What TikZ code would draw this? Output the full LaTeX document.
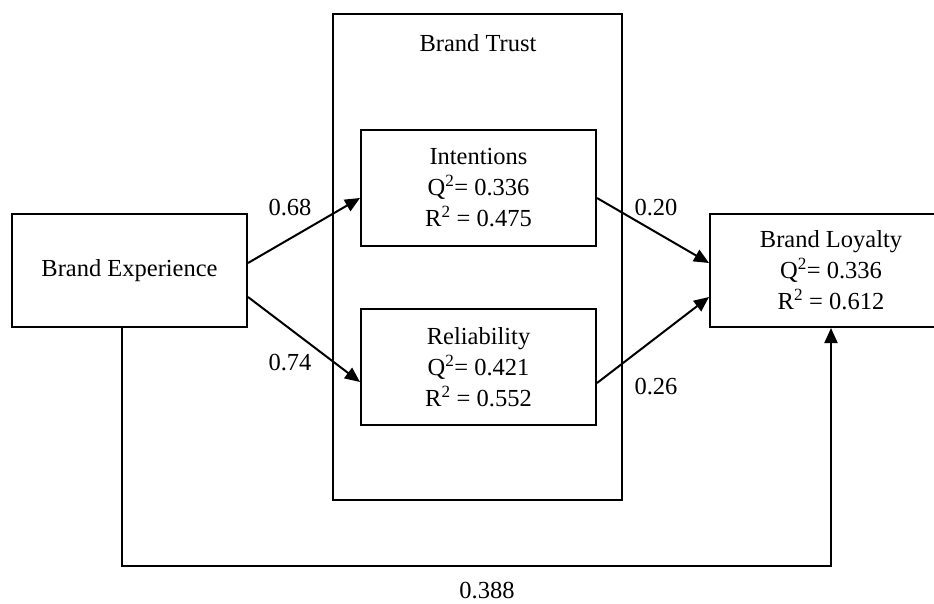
\documentclass[tikz,border=0pt]{standalone}
\usepackage{fontspec}
\setmainfont{Liberation Serif}
\usetikzlibrary{arrows.meta}
\begin{document}
\begin{tikzpicture}[x=1pt,y=-1pt,
  box/.style={draw,line width=2pt,rectangle,inner sep=0pt,align=center,
    font=\fontsize{24.5}{31}\selectfont},
  lbl/.style={font=\fontsize{24.5}{31}\selectfont,inner sep=0pt},
  conn/.style={line width=2pt,-{Triangle[length=15pt,width=13pt]}}]
\useasboundingbox (0,0) rectangle (934,603);
\node[box,minimum width=289pt,minimum height=486pt] (trust) at (477.5,257) {};
\node[lbl] (trusttitle) at (478,43) {Brand Trust};
\node[box,minimum width=235pt,minimum height=113pt] (exp) at (129.5,270.5) {Brand Experience};
\node[box,minimum width=235pt,minimum height=116pt,fill=white] (int) at (478.5,188)
  {Intentions\\Q\textsuperscript{2}= 0.336\\R\textsuperscript{2} = 0.475};
\node[box,minimum width=235pt,minimum height=116pt,fill=white] (rel) at (478.5,367)
  {Reliability\\Q\textsuperscript{2}= 0.421\\R\textsuperscript{2} = 0.552};
\node[box,minimum width=242pt,minimum height=113pt] (loy) at (831,270.5)
  {Brand Loyalty\\Q\textsuperscript{2}= 0.336\\R\textsuperscript{2} = 0.612};
\draw[conn] ([yshift=7.5pt]exp.east) -- ([yshift=-10pt]int.west);
\draw[conn] ([yshift=-26.5pt]exp.east) -- ([yshift=-15pt]rel.west);
\draw[conn] ([yshift=-10pt]int.east) -- ([yshift=7.5pt]loy.west);
\draw[conn] ([yshift=-16pt]rel.east) -- ([yshift=-26.5pt]loy.west);
\draw[conn] ([xshift=-7.5pt]exp.south) -- ++(0,238) -| (loy.south);
\node[lbl] (l1) at (290,208) {0.68};
\node[lbl] (l2) at (290,363) {0.74};
\node[lbl] (l3) at (656,208) {0.20};
\node[lbl] (l4) at (656,387) {0.26};
\node[lbl] (l5) at (487,591) {0.388};
\end{tikzpicture}
\end{document}
